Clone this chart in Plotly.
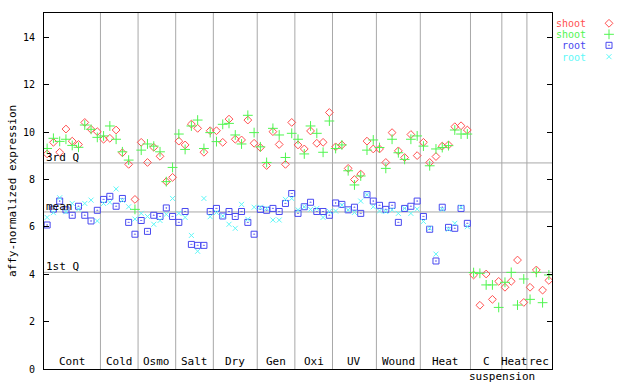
import plotly.graph_objects as go

# ---------------- data ----------------
group_labels = ["Cont", "Cold", "Osmo", "Salt", "Dry", "Gen", "Oxi", "UV", "Wound", "Heat", "C", "Heat", "rec"]
group_sizes = [9, 6, 6, 6, 7, 6, 6, 7, 7, 8, 5, 4, 4]

shoot_red = [
    9.08, 9.57, 9.15, 10.13, 9.62, 9.48, 10.41, 10.12, 10.02,
    9.70, 9.74, 10.09, 9.13, 8.64, 7.16,
    9.57, 8.72, 9.36, 8.98, 7.91, 8.09,
    9.62, 9.46, 10.34, 10.16, 9.15, 10.06,
    10.06, 9.57, 10.55, 9.70, 9.67, 10.51, 9.53,
    9.35, 8.59, 10.02, 9.48, 8.64, 10.41,
    9.46, 9.29, 10.05, 9.53, 9.57, 10.83,
    9.38, 9.46, 8.47, 8.00, 8.23, 9.62, 9.29,
    9.29, 8.72, 9.98, 9.21, 8.93, 9.90, 9.01,
    9.57, 8.72, 8.97, 9.41, 9.46, 10.23, 10.27, 10.09,
    3.97, 2.69, 4.01, 2.94, 3.70,
    3.45, 3.70, 4.60, 2.81,
    3.45, 4.18, 3.33, 3.74,
]
shoot_green = [
    9.31, 9.74, 9.61, 9.70, 9.44, 9.36, 10.30, 10.12, 9.78,
    9.84, 10.26, 9.70, 9.17, 8.82, 6.74,
    9.24, 9.50, 9.41, 9.17, 7.91, 8.51,
    9.92, 9.27, 10.26, 10.51, 9.31, 9.98,
    9.60, 10.33, 10.37, 9.88, 9.50, 10.71, 9.98,
    9.38, 8.72, 10.16, 9.88, 8.93, 9.95,
    9.70, 9.08, 10.26, 9.95, 9.15, 10.47,
    9.31, 9.46, 8.37, 7.77, 8.15, 9.24, 9.67,
    9.35, 8.47, 9.70, 9.13, 8.85, 9.70, 9.84,
    9.41, 8.58, 9.29, 9.35, 9.43, 10.09, 9.92, 9.92,
    4.07, 4.04, 3.55, 3.55, 2.60,
    3.66, 4.08, 2.70, 3.80,
    2.94, 4.08, 2.80, 3.97,
]
nan = None
root_blue = [
    6.08, 6.75, 7.09, 6.72, 6.49, 6.87, 6.49, 6.25, 6.70,
    7.16, 7.29, 6.87, 7.20, 6.19, 5.69,
    6.27, 5.81, 6.49, 6.44, 6.80, 6.44,
    6.19, 6.65, 5.26, 5.22, 5.22, 6.65,
    6.78, 6.46, 6.65, 6.44, 6.65, 6.19, 5.69,
    6.74, 6.70, 6.78, 6.65, 6.99, 7.41,
    6.57, 6.85, 7.04, 6.65, 6.65, 6.49,
    7.01, 6.95, 6.72, 6.83, 6.57, 7.36, 7.09,
    6.91, 6.74, 6.91, 6.19, 6.78, 6.87, 7.09,
    6.44, 5.90, 4.56, 6.83, 5.98, 5.94, 6.78, 6.15,
] + [nan] * 13
root_cyan = [
    6.40, 6.60, 7.23, 6.64, 6.99, 6.75, 6.99, 7.13, 6.25,
    6.99, 7.04, 7.60, 7.12, 6.85, 6.33,
    6.57, 6.44, 6.11, 6.27, 6.53, 7.20,
    6.57, 6.40, 5.64, 4.97, 7.20, 6.43,
    6.61, 6.46, 6.11, 5.94, 6.95, 6.32, 6.83,
    6.83, 6.78, 6.29, 6.29, 7.16, 7.20,
    6.72, 6.85, 6.74, 6.78, 6.40, 6.65,
    6.67, 6.92, 6.72, 6.61, 7.09, 7.36, 6.85,
    6.67, 6.65, 6.72, 6.57, 6.78, 6.57, 6.75,
    6.23, 5.94, 4.85, 6.74, 5.90, 6.15, 6.83, 6.01,
] + [nan] * 13

stat_lines = {"3rd Q": 8.70, "mean": 6.63, "1st Q": 4.08}
y_ticks = [0, 2, 4, 6, 8, 10, 12, 14]

series = [
    ("shoot", shoot_red, "#ff5050", "diamond-open", 6),
    ("shoot", shoot_green, "#50f550", "cross-thin-open", 7),
    ("root", root_blue, "#4848f0", "square-open-dot", 6),
    ("root", root_cyan, "#60f8f8", "x-thin-open", 5),
]

# ---------------- figure ----------------
FONT = "DejaVu Sans Mono"
n = len(shoot_red)
xs = list(range(n))

W, H = 640, 384
ML, MR, MT, MB = 44, 0, 13, 15
plot_right = 552
pw = W - ML - MR
dom_end = (plot_right - ML) / pw

fig = go.Figure()
for name, vals, col, sym, sz in series:
    fig.add_trace(go.Scatter(
        x=xs, y=vals, mode="markers", name=name, showlegend=False,
        marker=dict(symbol=sym, size=sz, color=col, line=dict(color=col, width=1)),
        xaxis="x", yaxis="y",
    ))

# custom legend (text left, marker right)
ph = H - MT - MB
leg_rows = [23.3, 34.3, 45.3, 56.7]
for (name, vals, col, sym, sz), yr in zip(series, leg_rows):
    yp = (H - MB - yr) / ph
    fig.add_trace(go.Scatter(
        x=[(609 - ML) / pw], y=[yp], mode="markers", showlegend=False,
        marker=dict(symbol=sym, size=sz, color=col, line=dict(color=col, width=1)),
        xaxis="x2", yaxis="y2", hoverinfo="skip",
    ))
    fig.add_annotation(
        xref="paper", yref="paper", x=(587 - ML) / pw, y=yp,
        xanchor="right", yanchor="middle", text=name, showarrow=False, borderpad=0,
        height=10, valign="middle",
        font=dict(family=FONT, size=10, color=col),
    )

shapes = []
bounds = []
c = 0
for s in group_sizes:
    bounds.append((c, c + s))
    c += s
for (a, b) in bounds[:-1]:
    shapes.append(dict(type="line", xref="x", yref="y domain", x0=b - 0.5, x1=b - 0.5,
                       y0=0, y1=1, line=dict(color="#a8a8a8", width=1), layer="below"))
for lab, v in stat_lines.items():
    shapes.append(dict(type="line", xref="x domain", yref="y", x0=0, x1=1, y0=v, y1=v,
                       line=dict(color="#a8a8a8", width=1), layer="below"))
    fig.add_annotation(xref="x domain", yref="y", x=0, y=v, xanchor="left", yanchor="bottom",
                       yshift=-3, text=lab, showarrow=False,
                       font=dict(family=FONT, size=11, color="black"))

for lab, (a, b) in zip(group_labels, bounds):
    fig.add_annotation(xref="x", yref="paper", x=(a + b - 1) / 2, y=0, xanchor="center",
                       yanchor="bottom", yshift=-1, text=lab, showarrow=False,
                       font=dict(family=FONT, size=11, color="black"))
ca, cb = bounds[10]
fig.add_annotation(xref="x", yref="paper", x=cb - 0.5, y=0, xanchor="center", yanchor="top",
                   yshift=1, text="suspension", showarrow=False,
                   font=dict(family=FONT, size=11, color="black"))

fig.add_annotation(xref="paper", yref="paper", x=(12 - ML) / pw, y=0.5, xanchor="center",
                   yanchor="middle", textangle=-90, text="affy-normalized expression",
                   showarrow=False, font=dict(family=FONT, size=11, color="black"))

fig.update_layout(
    width=W, height=H,
    margin=dict(l=ML, r=MR, t=MT, b=MB),
    paper_bgcolor="white", plot_bgcolor="rgba(0,0,0,0)",
    shapes=shapes, showlegend=False,
    xaxis=dict(domain=[0, dom_end], range=[-0.5, n - 0.5], showgrid=False, zeroline=False,
               showticklabels=False, ticks="", showline=True, mirror=True,
               linecolor="black", linewidth=1),
    yaxis=dict(domain=[0, 1], range=[0, 15.03], tickvals=y_ticks, showgrid=False,
               zeroline=False, showline=True, mirror="ticks", linecolor="black",
               linewidth=1, ticks="inside", ticklen=5, tickcolor="black",
               ticklabelstandoff=6,
               tickfont=dict(family=FONT, size=10, color="black")),
    xaxis2=dict(domain=[0, 1], range=[0, 1], visible=False, anchor="y2"),
    yaxis2=dict(domain=[0, 1], range=[0, 1], visible=False, anchor="x2"),
)

fig.write_html("out.html", config={"displayModeBar": False},
               post_script="document.body.style.margin='0';")
